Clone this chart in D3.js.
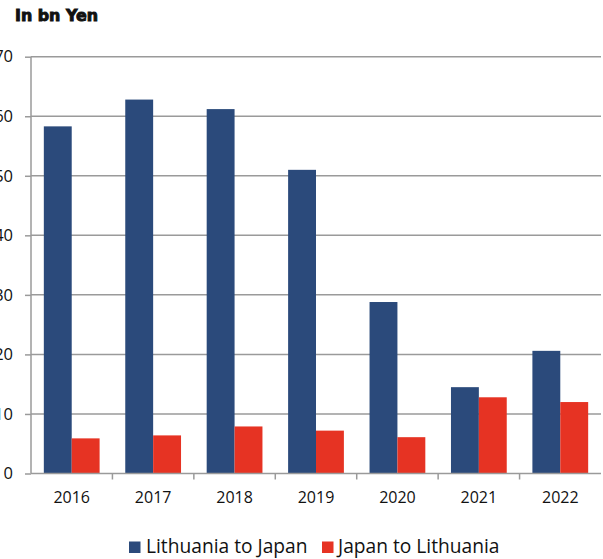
<!DOCTYPE html>
<html><head><meta charset="utf-8">
<script src="https://cdn.jsdelivr.net/npm/d3@7"></script>
<style>body{margin:0;background:#fff;}svg{display:block;}</style>
</head><body>
<script>
const years = ["2016","2017","2018","2019","2020","2021","2022"];
const seriesNames = ["Lithuania to Japan","Japan to Lithuania"];
const lithuaniaToJapan = [58.3, 62.8, 61.2, 51.0, 28.8, 14.5, 20.6];
const japanToLithuania = [5.9, 6.4, 7.9, 7.2, 6.1, 12.8, 12.0];
const yTicks = [0,10,20,30,40,50,60,70];
const colors = ["#2B4A7B","#E63323"];

const W = 603, H = 559;
const m = {left:31, right:2, top:56.7, bottom:85.5};
const svg = d3.select("body").append("svg").attr("width",W).attr("height",H);

const x = d3.scaleBand().domain(years).range([m.left, W-m.right]).paddingInner(0).paddingOuter(0);
const x1 = d3.scaleBand().domain(seriesNames).range([0, x.bandwidth()]).paddingInner(0).paddingOuter(0.46);
const y = d3.scaleLinear().domain([0,70]).range([H-m.bottom, m.top]);

// gridlines
svg.append("g").selectAll("line").data(yTicks.filter(d=>d>0)).join("line")
  .attr("x1", m.left).attr("x2", W-m.right)
  .attr("y1", d=>y(d)).attr("y2", d=>y(d))
  .attr("stroke","#9a9a9a").attr("stroke-width",1.5);

// bars
const data = years.map((yr,i)=>({yr, vals:[lithuaniaToJapan[i], japanToLithuania[i]]}));
const g = svg.append("g").selectAll("g").data(data).join("g")
  .attr("transform", d=>`translate(${x(d.yr)},0)`);
g.selectAll("rect").data(d=>d.vals.map((v,j)=>({v,j}))).join("rect")
  .attr("x", d=>x1(seriesNames[d.j]))
  .attr("width", x1.bandwidth())
  .attr("y", d=>y(d.v))
  .attr("height", d=>y(0)-y(d.v))
  .attr("fill", d=>colors[d.j]);

// y axis
const yAxis = d3.axisLeft(y).tickValues(yTicks).tickSize(6).tickPadding(12).tickFormat(d3.format("d"));
const ya = svg.append("g").attr("transform",`translate(${m.left},0)`).call(yAxis);
ya.select(".domain").attr("stroke","#9a9a9a").attr("stroke-width",1.5).attr("d",`M-0,${y(70)}V${y(0)}`);
ya.selectAll(".tick line").attr("stroke","#9a9a9a").attr("stroke-width",1.5);
ya.selectAll("text").attr("font-family","'Open Sans', sans-serif").attr("font-size",16.5).attr("fill","#111");

// x axis
const xAxis = d3.axisBottom(x).tickSize(0).tickPadding(18);
const xa = svg.append("g").attr("transform",`translate(0,${y(0)})`).call(xAxis);
xa.select(".domain").attr("stroke","#9a9a9a").attr("stroke-width",1.5).attr("d",`M${m.left},0H${W-m.right}`);
xa.selectAll("text").attr("font-family","'Open Sans', sans-serif").attr("font-size",16).attr("fill","#111");
// category separator ticks
svg.append("g").selectAll("line").data(years.slice(1)).join("line")
  .attr("x1", d=>x(d)).attr("x2", d=>x(d))
  .attr("y1", y(0)).attr("y2", y(0)+6)
  .attr("stroke","#9a9a9a").attr("stroke-width",1.5);

// title
svg.append("text").attr("x",15).attr("y",21).text("In bn Yen")
  .attr("font-family","'DejaVu Sans', sans-serif").attr("font-weight",700).attr("font-size",15)
  .attr("textLength",83).attr("lengthAdjust","spacingAndGlyphs")
  .attr("fill","#111").attr("stroke","#111").attr("stroke-width",0.9);

// legend
const leg = [{x:129, tx:146},{x:322, tx:338}];
seriesNames.forEach((s,i)=>{
  svg.append("rect").attr("x",leg[i].x).attr("y",541.5).attr("width",11.5).attr("height",11.5).attr("fill",colors[i]);
  svg.append("text").attr("x",leg[i].tx).attr("y",553).text(s)
    .attr("font-family","'Open Sans', sans-serif").attr("font-size",19.2).attr("fill","#111");
});
</script>
</body></html>
